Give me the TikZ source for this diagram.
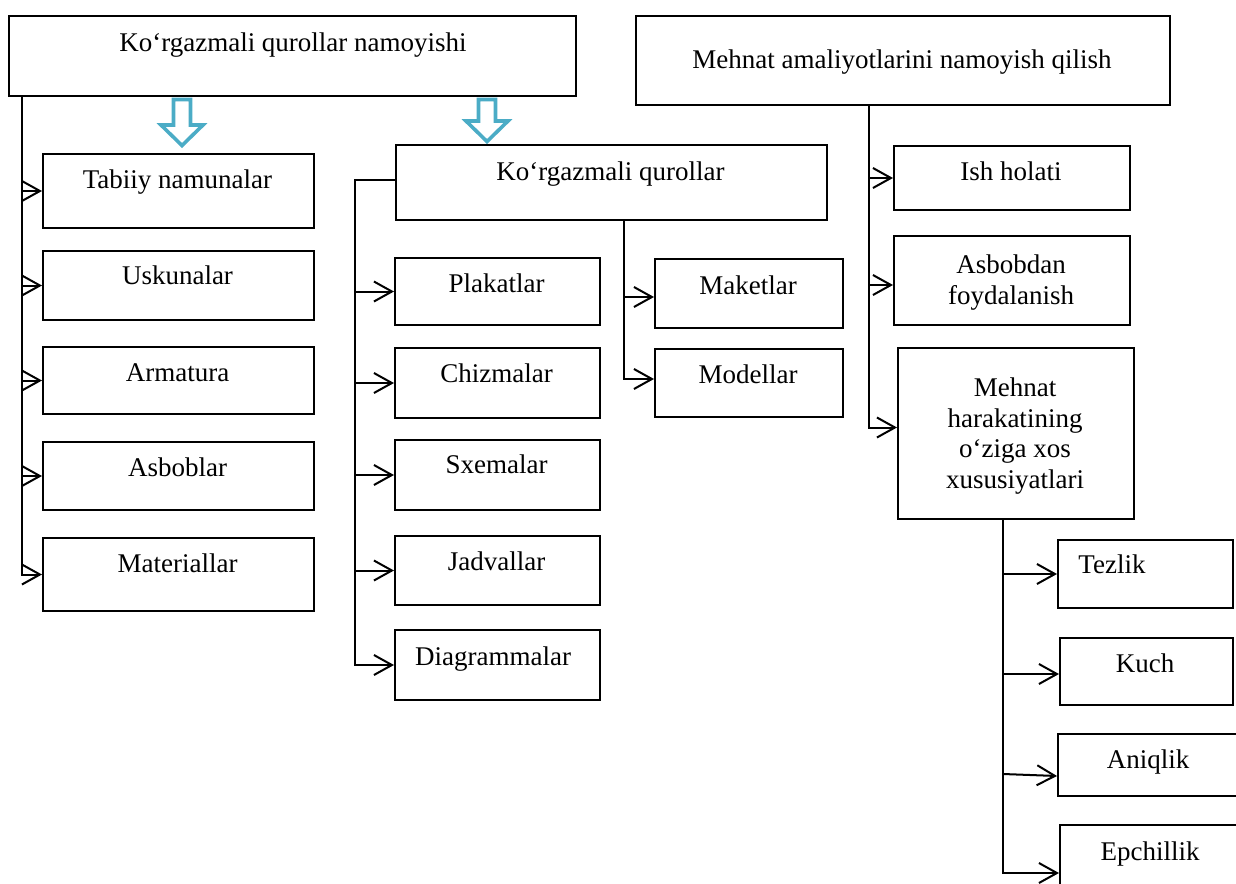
\documentclass[tikz,border=0pt]{standalone}
\usepackage{fontspec}
\setmainfont{Liberation Serif}
\usetikzlibrary{arrows.meta}
\definecolor{accent}{HTML}{4BACC6}
% box given by its top-left and bottom-right corners
\newcommand\bx[5]{\node[box, minimum width={#4-#2}, minimum height={#5-#3}] (#1) at (#2,#3) {};}
\begin{document}
\begin{tikzpicture}[x=1pt, y=-1pt,
  box/.style={draw, line width=2pt, inner sep=0pt, anchor=north west},
  lbl/.style={inner sep=0pt, anchor=base, font=\fontsize{27}{30.5}\selectfont},
  mlbl/.style={inner sep=0pt, anchor=north, align=center, font=\fontsize{27}{30.5}\selectfont},
  title/.style={inner sep=0pt, anchor=base, font=\fontsize{27}{32}\selectfont},
  arr/.style={line width=2pt, -{Straight Barb[length=18pt, width=20pt, line width=2pt]}},
  hollow/.style={draw=accent, fill=white, line width=3.6pt, line join=miter}]
\useasboundingbox (0,0) rectangle (1236,883);
\clip (0,0) rectangle (1236,883);

% top level
\bx{A}{8}{15}{575}{95}
\node[title] (A-t) at (293,52) {Ko‘rgazmali qurollar namoyishi};
\bx{B}{635}{15}{1169}{104}
\node[title] (B-t) at (902,69) {Mehnat amaliyotlarini namoyish qilish};

% left column
\bx{tab}{42}{153}{313}{227}
\node[lbl] (tab-t) at (177.5,188) {Tabiiy namunalar};
\bx{usk}{42}{250}{313}{319}
\node[lbl] (usk-t) at (177.5,284) {Uskunalar};
\bx{arm}{42}{346}{313}{413}
\node[lbl] (arm-t) at (177.5,381) {Armatura};
\bx{asb}{42}{441}{313}{509}
\node[lbl] (asb-t) at (177.5,476) {Asboblar};
\bx{mat}{42}{537}{313}{610}
\node[lbl] (mat-t) at (177.5,572) {Materiallar};

% middle group
\bx{kq}{395}{144}{826}{219}
\node[lbl] (kq-t) at (610.5,180) {Ko‘rgazmali qurollar};
\bx{plak}{394}{257}{599}{324}
\node[lbl] (plak-t) at (496.5,292) {Plakatlar};
\bx{chiz}{394}{347}{599}{417}
\node[lbl] (chiz-t) at (496.5,382) {Chizmalar};
\bx{sxem}{394}{439}{599}{509}
\node[lbl] (sxem-t) at (496.5,473) {Sxemalar};
\bx{jadv}{394}{535}{599}{604}
\node[lbl] (jadv-t) at (496.5,570) {Jadvallar};
\bx{diag}{394}{629}{599}{699}
\node[lbl] (diag-t) at (493,665) {Diagrammalar};
\bx{mak}{654}{258}{842}{327}
\node[lbl] (mak-t) at (748,294) {Maketlar};
\bx{mod}{654}{348}{842}{416}
\node[lbl] (mod-t) at (748,383) {Modellar};

% right group
\bx{ish}{893}{145}{1129}{209}
\node[lbl] (ish-t) at (1011,180) {Ish holati};
\bx{asbd}{893}{235}{1129}{324}
\node[mlbl] (asbd-t) at (1011,254.6) {Asbobdan\\foydalanish};
\bx{mh}{897}{347}{1133}{518}
\node[mlbl] (mh-t) at (1015,377.6) {Mehnat\\harakatining\\o‘ziga xos\\xususiyatlari};
\bx{tez}{1057}{539}{1232}{607}
\node[lbl] (tez-t) at (1112,573) {Tezlik};
\bx{kuch}{1059}{637}{1232}{704}
\node[lbl] (kuch-t) at (1145,672) {Kuch};
\bx{ani}{1057}{733}{1262}{795}
\node[lbl] (ani-t) at (1148,768) {Aniqlik};
\bx{epch}{1059}{824}{1262}{920}
\node[lbl] (epch-t) at (1150,860) {Epchillik};

% hollow block arrows under the first title
\draw[hollow] (173.5,99.5) -- (190.5,99.5) -- (190.5,125) -- (203,125)
  -- (182,145.5) -- (161,125) -- (173.5,125) -- cycle;
\draw[hollow] (478.5,99.5) -- (495.5,99.5) -- (495.5,121) -- (508,121)
  -- (487,141.5) -- (466,121) -- (478.5,121) -- cycle;

% spines
\coordinate (sL) at (22,0);
\coordinate (sM) at (355,0);
\coordinate (sK) at (624,0);
\coordinate (sR) at (869,0);
\coordinate (sB) at (1003,0);

% left spine
\draw[arr] (A.south -| sL) |- (mat.west);
\foreach \n in {tab,usk,arm,asb}
  \draw[arr] (sL |- \n.west) -- (\n.west);

% spine of the middle group
\draw[arr] ([yshift=3pt]kq.west) -| (sM |- diag.west) -- (diag.west);
\foreach \n in {plak,chiz,sxem,jadv}
  \draw[arr] (sM |- \n.west) -- (\n.west);
\draw[arr] (kq.south -| sK) |- ([yshift=4pt]mod.west);
\draw[arr] (sK |- 0,297) -- (mak.west |- 0,297);

% right spine
\draw[arr] (B.south -| sR) |- ([yshift=6pt]mh.west);
\draw[arr] (sR |- ish.west) -- (ish.west);
\draw[arr] (sR |- 0,285) -- (asbd.west |- 0,285);

% spine under the last box
\draw[arr] (mh.south -| sB) |- (epch.west);
\draw[arr] (sB |- tez.west) -- (tez.west);
\draw[arr] (sB |- 0,674) -- (kuch.west |- 0,674);
\draw[arr] (sB |- 0,774) -- (ani.west |- 0,776);
\end{tikzpicture}
\end{document}
